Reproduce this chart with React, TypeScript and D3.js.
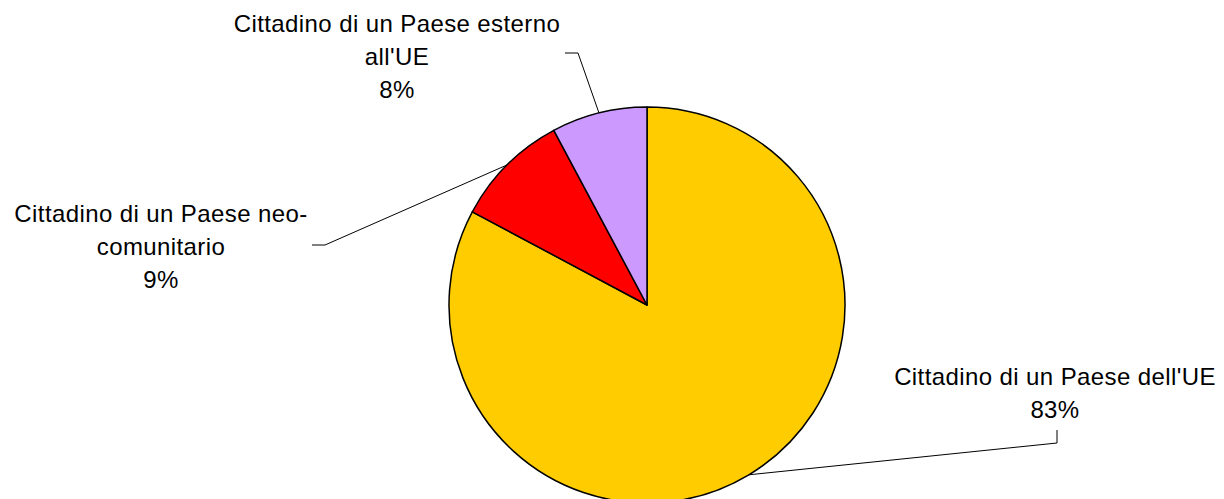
import React, { useEffect, useRef } from 'react'
import * as d3 from 'd3'

// slice data (percent), clockwise from 12 o'clock
const categories = ["Cittadino di un Paese dell'UE", 'Cittadino di un Paese neo-comunitario', "Cittadino di un Paese esterno all'UE"]
const values = [82.8, 9.4, 7.8]
const colors = ['#FFCC00', '#FF0000', '#CC99FF']
// label text lines as they wrap in the picture
const labelLines = [
    ["Cittadino di un Paese dell'UE"],
    ['Cittadino di un Paese neo-', 'comunitario'],
    ['Cittadino di un Paese esterno', "all'UE"],
]

const W = 1224, H = 499
const cx = 647, cy = 305, R = 198

// where each label sits and where its leader line bends
const labelPos = [
    { x: 1055, y: 385, elbow: [1057, 443], end: [1057, 430] },
    { x: 161, y: 222, elbow: [325, 245], end: [312, 245] },
    { x: 397, y: 32, elbow: [578, 53], end: [565, 53] },
]

function App() {
    const ref = useRef<SVGSVGElement>(null)

    useEffect(() => {
        const svg = d3.select(ref.current)
        svg.selectAll('*').remove()

        const pie = d3.pie<number>().sort(null).value(d => d)
        const arcs = pie(values)
        const arc = d3.arc<d3.PieArcDatum<number>>().innerRadius(0).outerRadius(R)

        const g = svg.append('g').attr('transform', `translate(${cx},${cy})`)
        g.selectAll('path.slice')
            .data(arcs)
            .join('path')
            .attr('class', 'slice')
            .attr('d', arc)
            .attr('fill', (d, i) => colors[i])
            .attr('stroke', '#000')
            .attr('stroke-width', 1.5)
            .attr('stroke-linejoin', 'round')

        const total = d3.sum(values)
        const lineH = 33

        arcs.forEach((a, i) => {
            const mid = (a.startAngle + a.endAngle) / 2
            const px = cx + R * Math.sin(mid)
            const py = cy - R * Math.cos(mid)
            const p = labelPos[i]
            svg.append('polyline')
                .attr('points', `${px},${py} ${p.elbow[0]},${p.elbow[1]} ${p.end[0]},${p.end[1]}`)
                .attr('fill', 'none')
                .attr('stroke', '#000')
                .attr('stroke-width', 1)

            const lines = [...labelLines[i], Math.round(values[i] / total * 100) + '%']
            const t = svg.append('text')
                .attr('text-anchor', 'middle')
                .attr('font-family', 'Arial, "Liberation Sans", sans-serif')
                .attr('font-size', 24)
                .attr('letter-spacing', 0.4)
                .attr('fill', '#000')
            lines.forEach((s, j) => {
                t.append('tspan').attr('x', p.x).attr('y', p.y + j * lineH).text(s)
            })
        })
    }, [])

    return (
        <div>
            <svg ref={ref} width={W} height={H}
                 style={{ position: 'absolute', left: 0, top: 0, background: '#fff' }} />
        </div>
    )
}

export default App
